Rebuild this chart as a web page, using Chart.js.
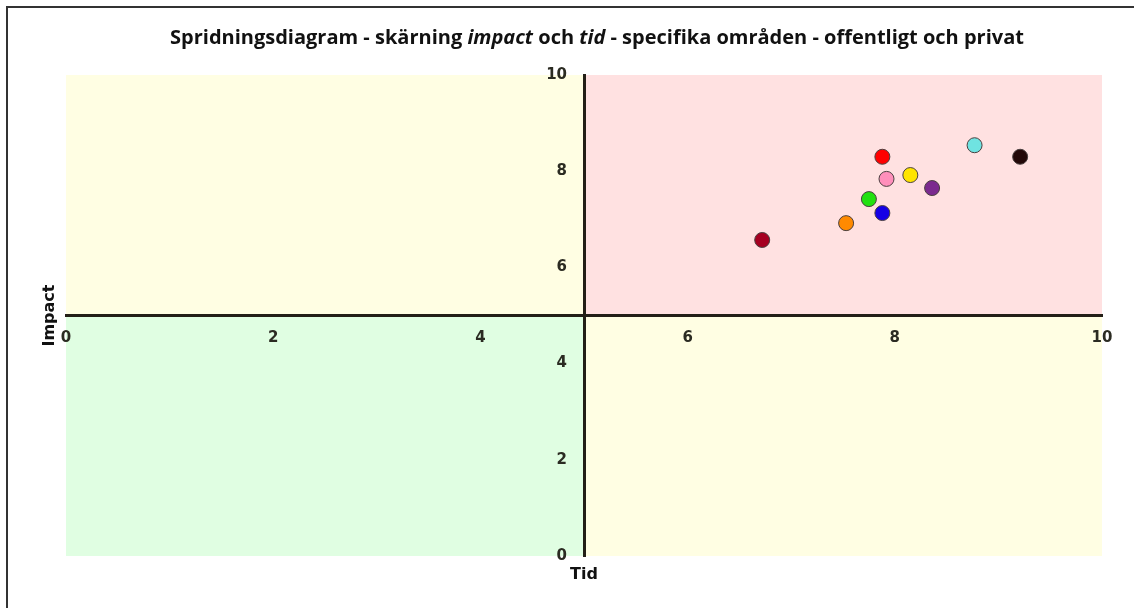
<!DOCTYPE html>
<html>
<head>
<meta charset="utf-8">
<script src="https://cdn.jsdelivr.net/npm/chart.js@4.4.1/dist/chart.umd.min.js"></script>
<style>
  html, body { margin: 0; padding: 0; background: #fff; }
  #wrap { position: relative; width: 1134px; height: 608px; }
  #frame { position: absolute; left: 6px; top: 6px; right: 0; bottom: 0;
           border-top: 2px solid #333; border-left: 2px solid #333; pointer-events: none; }
</style>
</head>
<body>
<div id="wrap">
  <canvas id="c" width="1134" height="608"></canvas>
  <div id="frame"></div>
</div>
<script>
// data
const tidValues    = [6.72, 7.53, 7.88, 7.75, 7.92, 7.88, 8.15, 8.36, 8.77, 9.21];
const impactValues = [6.57, 6.92, 7.13, 7.42, 7.84, 8.30, 7.92, 7.65, 8.54, 8.30];
const pointColors  = ['#a50021', '#ff8a00', '#1500e6', '#22e010', '#ff8fbb',
                      '#ff0000', '#ffe400', '#7b2a8e', '#6fe3e1', '#230808'];
const tickValues   = [0, 2, 4, 6, 8, 10];
const titleParts   = [
  { text: 'Spridningsdiagram - skärning ', italic: false },
  { text: 'impact', italic: true },
  { text: ' och ', italic: false },
  { text: 'tid', italic: true },
  { text: ' - specifika områden - offentligt och privat', italic: false }
];
const xTitle = 'Tid';
const yTitle = 'Impact';

const quadrantColors = { tl: '#fffee3', tr: '#ffe1e1', bl: '#e0fee2', br: '#fffee3' };
const axisColor = '#231f17';
const tickColor = '#2b2b22';
const tickFont = { family: 'DejaVu Sans', size: 15, weight: 'bold' };

// coloured quadrants behind everything
const quadrants = {
  id: 'quadrants',
  beforeDraw(chart) {
    const { ctx, chartArea: a, scales: { x, y } } = chart;
    const cx = x.getPixelForValue(5);
    const cy = y.getPixelForValue(5);
    ctx.save();
    ctx.fillStyle = quadrantColors.tl; ctx.fillRect(a.left, a.top, cx - a.left, cy - a.top);
    ctx.fillStyle = quadrantColors.tr; ctx.fillRect(cx, a.top, a.right - cx, cy - a.top);
    ctx.fillStyle = quadrantColors.bl; ctx.fillRect(a.left, cy, cx - a.left, a.bottom - cy);
    ctx.fillStyle = quadrantColors.br; ctx.fillRect(cx, cy, a.right - cx, a.bottom - cy);
    ctx.restore();
  }
};

// title with italic words, y tick labels (centred axis ignores padding), axis names
const labels = {
  id: 'labels',
  afterDraw(chart) {
    const { ctx, chartArea: a, scales: { x, y } } = chart;
    ctx.save();
    ctx.fillStyle = '#111';
    ctx.textBaseline = 'middle';
    const fontOf = p => (p.italic ? 'italic ' : '') + 'bold 20px "Open Sans"';
    let total = 0;
    titleParts.forEach(p => { ctx.font = fontOf(p); total += ctx.measureText(p.text).width; });
    let tx = 597 - total / 2;
    titleParts.forEach(p => {
      ctx.font = fontOf(p);
      ctx.textAlign = 'left';
      ctx.fillText(p.text, tx, 38);
      tx += ctx.measureText(p.text).width;
    });

    // y ticks
    ctx.font = 'bold 15px "DejaVu Sans"';
    ctx.fillStyle = tickColor;
    ctx.textAlign = 'right';
    const cx = x.getPixelForValue(5);
    tickValues.forEach(v => ctx.fillText(String(v), cx - 17, y.getPixelForValue(v)));

    ctx.fillStyle = '#111';
    ctx.font = 'bold 16px "DejaVu Sans"';
    ctx.textAlign = 'center';
    ctx.fillText(xTitle, cx, a.bottom + 19);
    ctx.translate(50, y.getPixelForValue(5));
    ctx.rotate(-Math.PI / 2);
    ctx.fillText(yTitle, 0, 0);
    ctx.restore();
  }
};

new Chart(document.getElementById('c'), {
  type: 'scatter',
  data: {
    datasets: [{
      data: tidValues.map((v, i) => ({ x: v, y: impactValues[i] })),
      pointBackgroundColor: pointColors,
      pointBorderColor: '#4a4040',
      pointBorderWidth: 1,
      pointRadius: 7.5,
      pointHoverRadius: 7.5
    }]
  },
  options: {
    responsive: false,
    animation: false,
    layout: { padding: { left: 66, right: 32, top: 75, bottom: 52 } },
    plugins: { legend: { display: false }, tooltip: { enabled: false }, title: { display: false } },
    scales: {
      x: {
        type: 'linear', min: 0, max: 10,
        position: { y: 5 },
        grid: { display: false, drawTicks: false },
        border: { display: true, color: axisColor, width: 3 },
        afterBuildTicks: s => { s.ticks = tickValues.map(v => ({ value: v })); },
        ticks: { color: tickColor, font: tickFont, padding: 14, maxRotation: 0, autoSkip: false }
      },
      y: {
        type: 'linear', min: 0, max: 10,
        position: { x: 5 },
        grid: { display: false, drawTicks: false },
        border: { display: true, color: axisColor, width: 3 },
        afterBuildTicks: s => { s.ticks = tickValues.map(v => ({ value: v })); },
        ticks: { display: false }
      }
    }
  },
  plugins: [quadrants, labels]
});
</script>
</body>
</html>
